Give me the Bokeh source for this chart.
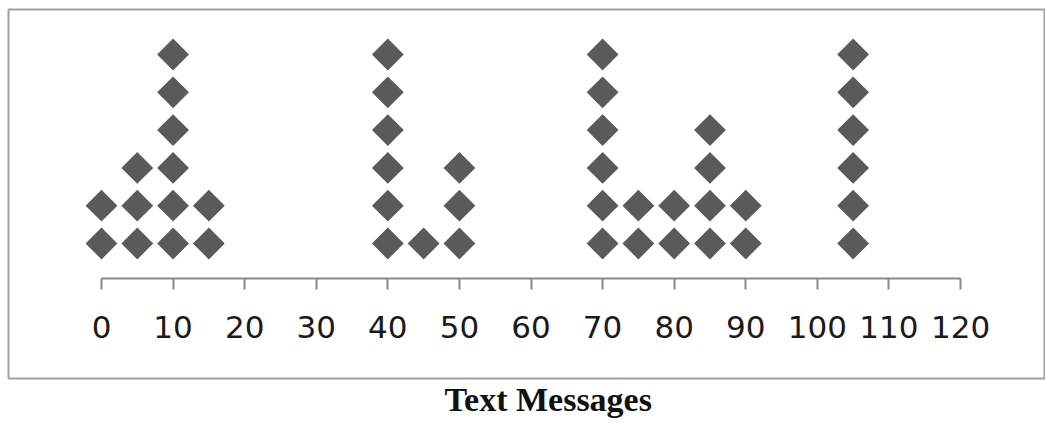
import math
from bokeh.plotting import figure
from bokeh.models import Range1d, LinearAxis, FixedTicker, Title, ColumnDataSource
from bokeh.embed import file_html
from bokeh.resources import INLINE

# Data: number of text messages (x) and how many dots are stacked at each value
values = [0, 5, 10, 15, 40, 45, 50, 70, 75, 80, 85, 90, 105]
counts = [2, 3, 6, 2, 6, 1, 3, 6, 2, 2, 4, 2, 6]
tick_values = [0, 10, 20, 30, 40, 50, 60, 70, 80, 90, 100, 110, 120]
x_title = "Text Messages"

xs, ys = [], []
for v, c in zip(values, counts):
    for k in range(1, c + 1):
        xs.append(v)
        ys.append(k)
src = ColumnDataSource(dict(x=xs, y=ys))

p = figure(width=1045, height=424, output_backend="svg", toolbar_location=None,
           x_axis_location=None, y_axis_location=None,
           x_range=Range1d(-12.99, 131.87), y_range=Range1d(-2.571, 7.19),
           min_border_left=8, min_border_top=9, min_border_right=0, min_border_bottom=46)
p.grid.visible = False
p.background_fill_color = "white"
p.border_fill_color = "white"
p.outline_line_color = "#a0a0a0"
p.outline_line_width = 2

p.scatter("x", "y", source=src, marker="square", angle=math.pi / 4, size=22.5,
          fill_color="#5a5a5a", line_color=None)

ax = LinearAxis(ticker=FixedTicker(ticks=tick_values), bounds=(0, 120))
ax.fixed_location = 0.07
ax.axis_line_color = "#888888"
ax.axis_line_width = 2
ax.major_tick_line_color = "#888888"
ax.major_tick_line_width = 2
ax.major_tick_in = 0
ax.major_tick_out = 11
ax.minor_tick_line_color = None
ax.major_label_text_font = "DejaVu Sans"
ax.major_label_text_font_size = "31px"
ax.major_label_text_color = "#1a1a1a"
ax.major_label_standoff = 26
p.add_layout(ax, "below")

t = Title(text=x_title, align="left", offset=436, text_font="Liberation Serif",
          text_font_style="bold", text_font_size="34px", text_color="#111111", standoff=0)
p.add_layout(t, "below")

open("out.html", "w").write(file_html(p, INLINE))
